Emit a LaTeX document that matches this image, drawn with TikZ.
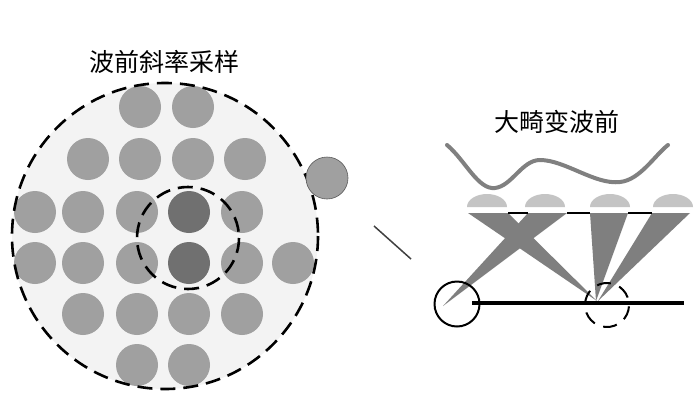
\documentclass[tikz,border=0pt]{standalone}
\usepackage{fontspec}
\newfontfamily\cjk{Noto Sans CJK SC}
\begin{document}
\begin{tikzpicture}[x=1pt,y=-1pt,
  spot/.style={circle,fill=spotgray,inner sep=0pt,minimum size=42pt},
  darkspot/.style={circle,fill=darkgray,inner sep=0pt,minimum size=42pt},
  dashcircle/.style={draw=black,line width=2.6pt,dash pattern=on 15pt off 8pt},
  beam/.style={fill=beamgray},
  lens/.style={fill=lensgray},
  title/.style={font=\cjk\fontsize{25}{25}\selectfont,inner sep=0pt}]
\definecolor{spotgray}{HTML}{A0A0A0}
\definecolor{darkgray}{HTML}{707070}
\definecolor{bggray}{HTML}{F3F3F3}
\definecolor{beamgray}{HTML}{7F7F7F}
\definecolor{lensgray}{HTML}{C4C4C4}
\definecolor{wavegray}{HTML}{808080}
\useasboundingbox (0,0) rectangle (700,402);
\fill[white] (0,0) rectangle (700,402);
% left part
\node[title] (t1) at (164,62) {波前斜率采样};
\fill[bggray] (165,236) circle (153);
\foreach \x/\y [count=\i] in {140/107,193/107,
  88/159,140/159,193/159,245/159,
  35/212,83/212,137/212,242/212,
  35/263,83/263,137/263,242/263,293/263,
  83/314,137/314,189/314,242/314,
  137/365,189/365}
  \node[spot] (s\i) at (\x,\y) {};
\node[darkspot] (d1) at (189,212) {};
\node[darkspot] (d2) at (189,263) {};
\draw[dashcircle] (165,236) circle (153);
\draw[dashcircle] (188,238) circle (51);
\node[spot,draw=darkgray!80!black,line width=0.6pt] (out) at (327,178) {};
% separator
\coordinate (m1) at (374,226);
\coordinate (m2) at (411,259);
\draw[black!75,line width=1.5pt] (m1) -- (m2);
% right part
\node[title] (t2) at (557,122) {大畸变波前};
\draw[wavegray,line width=4pt,line cap=round]
  (447,145) .. controls (465,160) and (478,190) .. (495,188)
  .. controls (512,186) and (522,160) .. (540,160)
  .. controls (565,160) and (595,185) .. (620,182)
  .. controls (640,180) and (655,155) .. (668,145);
\foreach \c [count=\i] in {487,545,610,673}
  \fill[lens] (\c-20,207) arc[start angle=180,end angle=360,x radius=20,y radius=13] -- cycle;
% beams
\coordinate (f1) at (597,301);
\coordinate (f2) at (443,306);
\coordinate (f3) at (596,301);
\coordinate (f4) at (598,301);
\fill[beam] (468,213) -- (508,213) -- (f1) -- cycle;
\fill[beam] (528,213) -- (567,213) -- (f2) -- cycle;
\fill[beam] (590,213) -- (628,213) -- (f3) -- cycle;
\fill[beam] (652,213) -- (690,213) -- (f4) -- cycle;
\draw[black,line width=2.4pt] (508,213) -- (528,213) (567,213) -- (590,213) (628,213) -- (652,213);
% detector line
\coordinate (l1) at (472,303);
\coordinate (l2) at (684,303);
\draw[black,line width=3.2pt] (l1) -- (l2);
\node[circle,draw=black,line width=2pt,minimum size=45pt,inner sep=0pt] (c1) at (457,304) {};
\node[circle,draw=black,line width=2pt,minimum size=44pt,inner sep=0pt,dash pattern=on 14pt off 9pt,rotate=20] (c2) at (607,305) {};
\end{tikzpicture}
\end{document}
